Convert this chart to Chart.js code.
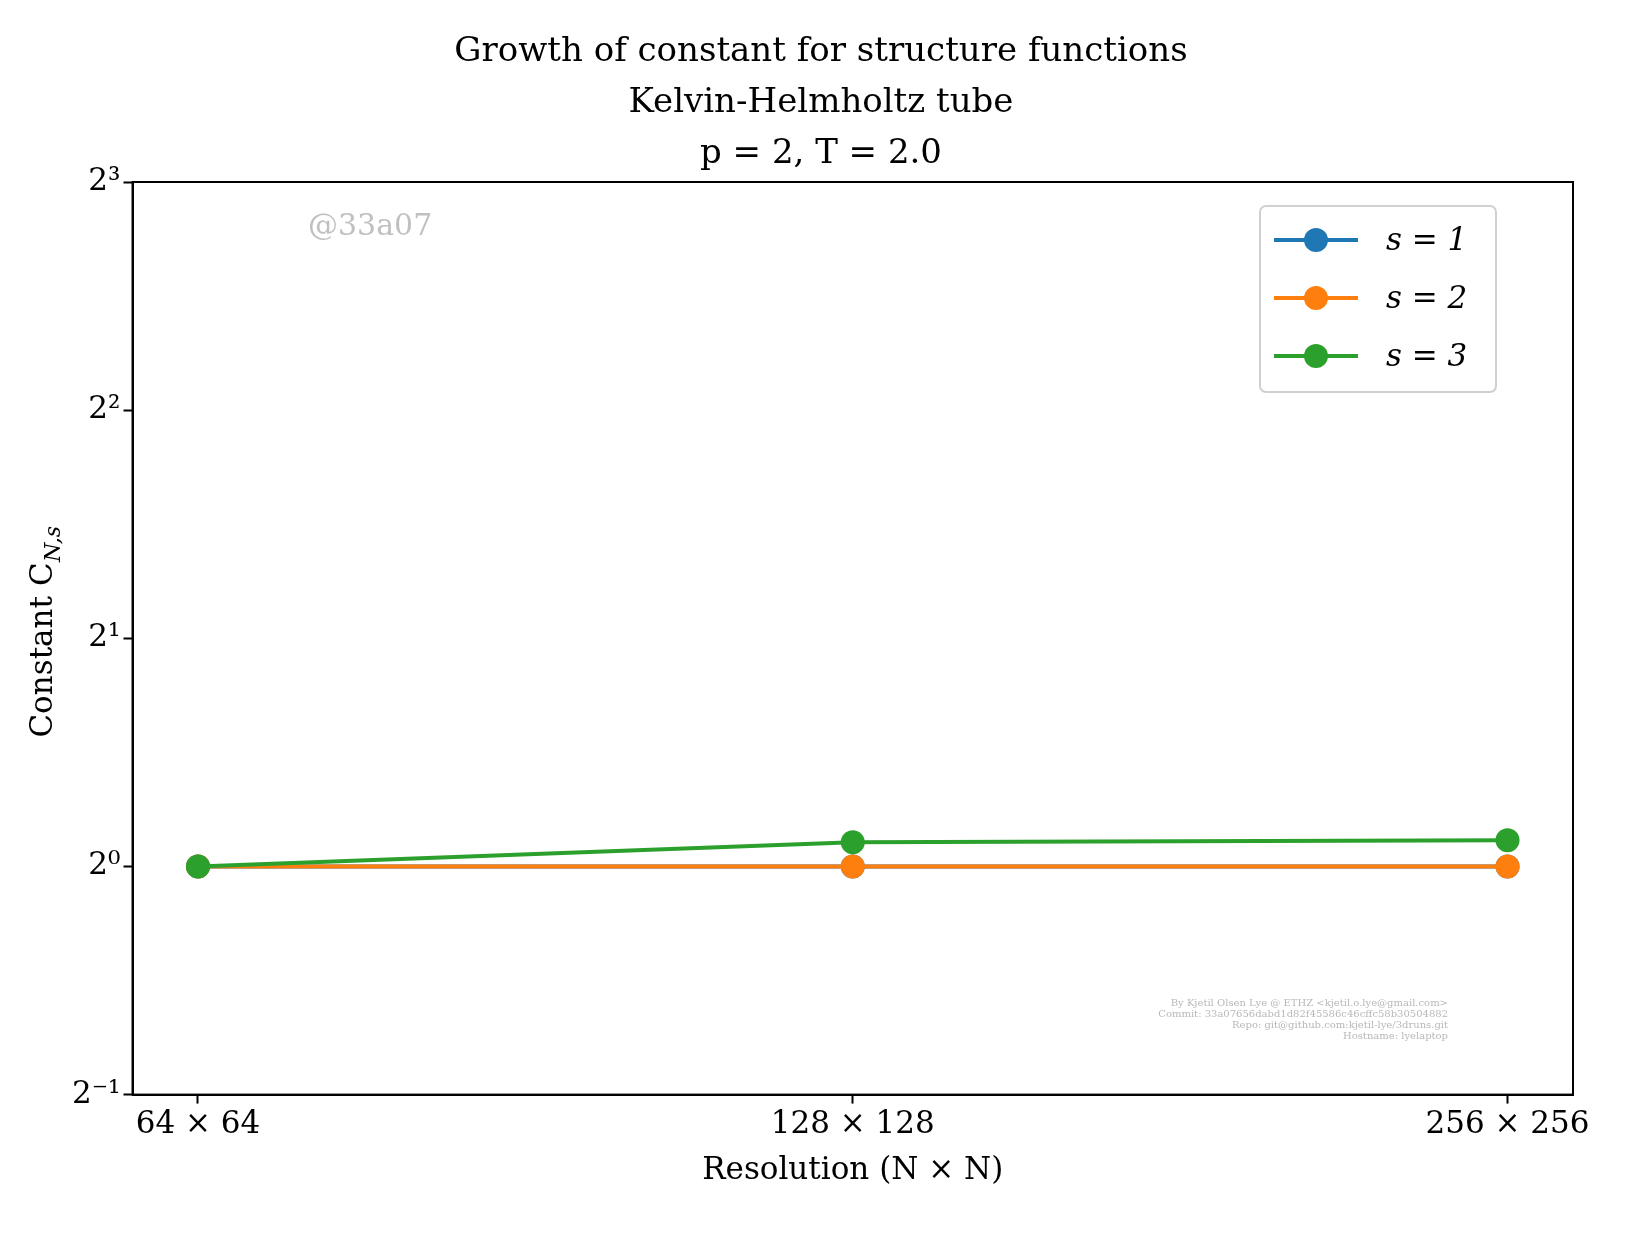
<!DOCTYPE html>
<html>
<head>
<meta charset="utf-8">
<script src="https://cdn.jsdelivr.net/npm/chart.js@4.4.0/dist/chart.umd.min.js"></script>
<style>
  html, body { margin: 0; background: #fff; }
  #wrap { width: 1628px; height: 1252px; }
</style>
</head>
<body>
<div id="wrap"><canvas id="c" width="1628" height="1252"></canvas></div>
<script>
const resolutions = ['64 × 64', '128 × 128', '256 × 256'];
const s1 = [1.0, 1.0, 1.0];
const s2 = [1.0, 1.0, 1.0];
const s3 = [1.0, 1.076, 1.083];
const yExponents = [-1, 0, 1, 2, 3];
const seriesLabels = ['s = 1', 's = 2', 's = 3'];
const colors = ['#1f77b4', '#ff7f0e', '#2ca02c'];
const footer = [
  'By Kjetil Olsen Lye @ ETHZ <kjetil.o.lye@gmail.com>',
  'Commit: 33a07656dabd1d82f45586c46cffc58b30504882',
  'Repo: git@github.com:kjetil-lye/3druns.git',
  'Hostname: lyelaptop'
];
const SERIF = '"DejaVu Serif", "Liberation Serif", serif';
const sup = { '-': '⁻', '0': '⁰', '1': '¹', '2': '²', '3': '³' };

function toPoints(vals) {
  return vals.map((v, i) => ({ x: i, y: Math.log2(v) }));
}

const extras = {
  id: 'extras',
  afterDraw(chart) {
    const { ctx, chartArea: a } = chart;
    ctx.save();
    // frame
    ctx.strokeStyle = '#000';
    ctx.lineWidth = 2;
    ctx.strokeRect(a.left, a.top, a.right - a.left, a.bottom - a.top);
    // watermark
    ctx.fillStyle = '#c0c0c0';
    ctx.font = '30px ' + SERIF;
    ctx.textBaseline = 'alphabetic';
    ctx.fillText('@33a07', 308, 235);
    // footer
    ctx.font = '10px ' + SERIF;
    ctx.fillStyle = '#b8b8b8';
    ctx.textAlign = 'right';
    footer.forEach((t, i) => ctx.fillText(t, 1448, 1006 + i * 11));
    // y title
    ctx.translate(52, 640);
    ctx.rotate(-Math.PI / 2);
    ctx.textAlign = 'center';
    ctx.fillStyle = '#000';
    ctx.font = '31px ' + SERIF;
    ctx.fillText('Constant C', -10, 0);
    ctx.font = 'italic 22px ' + SERIF;
    ctx.textAlign = 'left';
    ctx.fillText('N,s', 78, 8);
    ctx.restore();
    // legend
    ctx.save();
    const lx = 1260, ly = 206, lw = 236, lh = 186;
    ctx.fillStyle = 'rgba(255,255,255,0.8)';
    ctx.strokeStyle = '#d0d0d0';
    ctx.lineWidth = 2;
    ctx.beginPath();
    ctx.roundRect(lx, ly, lw, lh, 6);
    ctx.fill();
    ctx.stroke();
    seriesLabels.forEach((t, i) => {
      const yy = ly + 34 + i * 58;
      ctx.strokeStyle = colors[i];
      ctx.lineWidth = 4;
      ctx.beginPath();
      ctx.moveTo(lx + 14, yy);
      ctx.lineTo(lx + 98, yy);
      ctx.stroke();
      ctx.fillStyle = colors[i];
      ctx.beginPath();
      ctx.arc(lx + 56, yy, 12, 0, Math.PI * 2);
      ctx.fill();
      ctx.fillStyle = '#000';
      ctx.font = 'italic 31px ' + SERIF;
      ctx.textBaseline = 'middle';
      ctx.fillText(t, lx + 126, yy + 2);
    });
    ctx.restore();
  }
};

function ds(label, vals, color, order) {
  return {
    label: label,
    data: toPoints(vals),
    borderColor: color,
    backgroundColor: color,
    borderWidth: 4,
    pointRadius: 12,
    pointHoverRadius: 12,
    pointBorderWidth: 0,
    tension: 0,
    order: order
  };
}

const tickGrid = { drawOnChartArea: false, drawTicks: true, tickLength: 9, color: '#000', tickWidth: 2 };

new Chart(document.getElementById('c'), {
  type: 'line',
  data: {
    datasets: [
      ds(seriesLabels[0], s1, colors[0], 3),
      ds(seriesLabels[1], s2, colors[1], 2),
      ds(seriesLabels[2], s3, colors[2], 1)
    ]
  },
  options: {
    responsive: false,
    animation: false,
    layout: { padding: { left: 69, right: 55, top: 27, bottom: 58 } },
    plugins: {
      legend: { display: false },
      tooltip: { enabled: false },
      title: {
        display: true,
        text: ['Growth of constant for structure functions', 'Kelvin-Helmholtz tube', 'p = 2, T = 2.0'],
        color: '#000',
        font: { family: SERIF, size: 34, weight: 'normal', lineHeight: 1.5 },
        padding: { top: 0, bottom: 2 }
      }
    },
    scales: {
      x: {
        type: 'linear',
        min: -0.1,
        max: 2.1,
        grid: tickGrid,
        border: { color: '#000', width: 2 },
        afterBuildTicks: (ax) => { ax.ticks = [0, 1, 2].map(v => ({ value: v })); },
        ticks: {
          color: '#000',
          font: { family: SERIF, size: 31 },
          callback: (v) => resolutions[v],
          maxRotation: 0,
          autoSkip: false
        },
        title: {
          display: true,
          text: 'Resolution (N × N)',
          color: '#000',
          font: { family: SERIF, size: 31 },
          padding: { top: 6 }
        }
      },
      y: {
        type: 'linear',
        min: -1,
        max: 3,
        grid: tickGrid,
        border: { color: '#000', width: 2 },
        afterBuildTicks: (ax) => { ax.ticks = yExponents.map(v => ({ value: v })); },
        ticks: {
          color: '#000',
          font: { family: SERIF, size: 31 },
          callback: (v) => '2' + String(v).split('').map(c => sup[c]).join('')
        }
      }
    }
  },
  plugins: [extras]
});
</script>
</body>
</html>
